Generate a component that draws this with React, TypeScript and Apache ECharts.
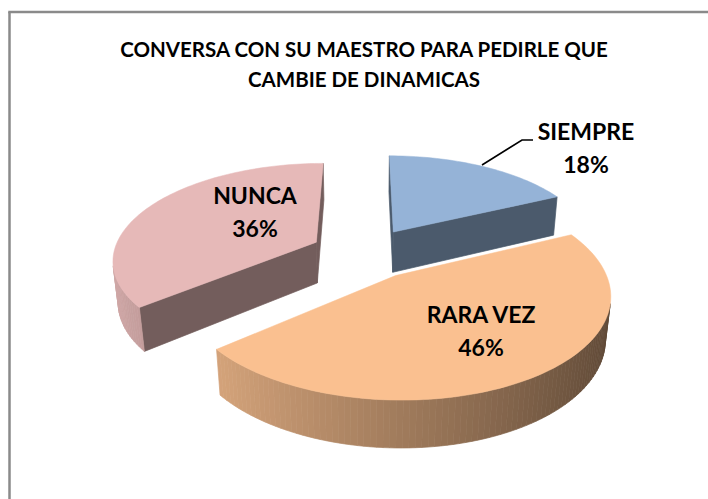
import React, { useEffect, useRef } from 'react';
import * as echarts from 'echarts';

// ---- data ----
const titleLines: string[] = ['CONVERSA CON SU MAESTRO PARA PEDIRLE QUE', 'CAMBIE DE DINAMICAS'];
const categories: string[] = ['SIEMPRE', 'RARA VEZ', 'NUNCA'];
const values: number[] = [18, 46, 36];
const topColors: string[] = ['#95B3D7', '#FAC090', '#E6B9B8'];

// ---- layout / view (3D projection of an exploded pie) ----
const VIEW = {
  cx: 365,
  cy: 253,
  K: 203,
  D: 5.3,
  phi: (28 * Math.PI) / 180,
  h: 0.235,
  explode: 0.27,
};
const LABEL_POS: [number, number][] = [
  [586, 147],
  [481, 330],
  [255, 211],
];

function project(X: number, Y: number, Z: number): [number, number] {
  const sp = Math.sin(VIEW.phi);
  const cp = Math.cos(VIEW.phi);
  const w = Y * cp + Z * sp;
  const s = VIEW.D / (VIEW.D - w);
  return [VIEW.cx + X * VIEW.K * s, VIEW.cy + (Y * sp - Z * cp) * VIEW.K * s];
}

function shade(hex: string, f: number): string {
  const n = parseInt(hex.slice(1), 16);
  const r = Math.min(255, Math.round(((n >> 16) & 255) * f));
  const g = Math.min(255, Math.round(((n >> 8) & 255) * f));
  const b = Math.min(255, Math.round((n & 255) * f));
  return `rgb(${r},${g},${b})`;
}

function signedArea(pts: [number, number][]): number {
  let s = 0;
  for (let i = 0; i < pts.length; i++) {
    const a = pts[i];
    const b = pts[(i + 1) % pts.length];
    s += a[0] * b[1] - b[0] * a[1];
  }
  return s;
}

const total = values.reduce((a, b) => a + b, 0);

function sliceInfo(i: number) {
  let start = 0;
  for (let j = 0; j < i; j++) start += values[j];
  const a0 = (start / total) * Math.PI * 2;
  const a1 = ((start + values[i]) / total) * Math.PI * 2;
  const mid = (a0 + a1) / 2;
  const ox = Math.sin(mid) * VIEW.explode;
  const oy = -Math.cos(mid) * VIEW.explode;
  return { a0, a1, ox, oy };
}

// draw order: slices further back first
const depthOrder = values
  .map((_, i) => ({ i, oy: sliceInfo(i).oy }))
  .sort((a, b) => a.oy - b.oy)
  .map((d) => d.i);

function curvedFactor(normalAngle: number): number {
  const nx = Math.sin(normalAngle);
  return 0.64 - 0.27 * nx;
}
const RADIAL_FACTOR = 0.5;

function renderItem(params: any) {
  const i = params.dataIndex;
  const { a0, a1, ox, oy } = sliceInfo(i);
  const h = VIEW.h;
  const P = (ang: number, r: number, Z: number) =>
    project(ox + r * Math.sin(ang), oy - r * Math.cos(ang), Z);
  const base = depthOrder.indexOf(i) * 100;
  const color = topColors[i];
  const children: any[] = [];

  const quads: { pts: [number, number][]; f: number }[] = [];
  quads.push({ pts: [P(0, 0, 0), P(a0, 1, 0), P(a0, 1, -h), P(0, 0, -h)], f: RADIAL_FACTOR });
  quads.push({ pts: [P(a1, 1, 0), P(0, 0, 0), P(0, 0, -h), P(a1, 1, -h)], f: RADIAL_FACTOR });
  const n = Math.max(2, Math.ceil((a1 - a0) / ((1.5 * Math.PI) / 180)));
  for (let k = 0; k < n; k++) {
    const t1 = a0 + ((a1 - a0) * k) / n;
    const t2 = a0 + ((a1 - a0) * (k + 1)) / n;
    quads.push({
      pts: [P(t1, 1, 0), P(t2, 1, 0), P(t2, 1, -h), P(t1, 1, -h)],
      f: curvedFactor((t1 + t2) / 2),
    });
  }
  quads.forEach((q) => {
    if (signedArea(q.pts) < 0) {
      const c = shade(color, q.f);
      children.push({
        type: 'polygon',
        shape: { points: q.pts },
        style: { fill: c, stroke: c, lineWidth: 0.7 },
        z2: base + 1,
      });
    }
  });

  const topPts: [number, number][] = [P(0, 0, 0)];
  for (let k = 0; k <= n; k++) topPts.push(P(a0 + ((a1 - a0) * k) / n, 1, 0));
  children.push({
    type: 'polygon',
    shape: { points: topPts },
    style: { fill: color, stroke: color, lineWidth: 0.5 },
    z2: base + 50,
  });
  return { type: 'group', children };
}

export default function App() {
  const ref = useRef<HTMLDivElement>(null);
  useEffect(() => {
    if (!ref.current) return;
    document.documentElement.style.overflow = 'hidden';
    document.body.style.overflow = 'hidden';
    document.body.style.margin = '0';
    const chart = echarts.init(ref.current, undefined, { renderer: 'svg' });
    const font = 'Lato, "Open Sans", sans-serif';
    const graphic: any[] = [
      {
        type: 'line',
        shape: { x1: 9.5, y1: 12, x2: 9.5, y2: 520 },
        style: { stroke: '#8a8a8a', lineWidth: 2.5 },
        silent: true,
      },
      {
        type: 'line',
        shape: { x1: 8.25, y1: 12, x2: 730, y2: 12 },
        style: { stroke: '#8a8a8a', lineWidth: 2.5 },
        silent: true,
      },
      ...titleLines.map((t, k) => ({
        type: 'text',
        x: 364,
        y: 49 + k * 30,
        style: {
          text: t,
          fill: '#000',
          fontFamily: font,
          fontWeight: 'bold',
          fontSize: 20.5,
          align: 'center',
          verticalAlign: 'middle',
        },
        z: 10,
      })),
      ...categories.map((c, i) => ({
        type: 'text',
        x: LABEL_POS[i][0],
        y: LABEL_POS[i][1],
        style: {
          text: `${c}\n${Math.round((values[i] / total) * 100)}%`,
          fill: '#000',
          fontFamily: font,
          fontWeight: 'bold',
          fontSize: 23,
          lineHeight: 33,
          align: 'center',
          verticalAlign: 'middle',
        },
        z: 10,
      })),
      {
        type: 'polyline',
        shape: { points: [[482, 165], [522, 140], [533, 140]] },
        style: { stroke: '#000', lineWidth: 1.6, fill: 'none' },
        z: 10,
      },
    ];
    chart.setOption({
      animation: false,
      backgroundColor: '#fff',
      graphic,
      series: [
        {
          type: 'custom',
          coordinateSystem: 'none',
          renderItem,
          data: values.map((v, i) => ({ name: categories[i], value: [i, v] })),
          silent: true,
        },
      ],
    });
    return () => chart.dispose();
  }, []);
  return (
    <div
      ref={ref}
      style={{ position: 'fixed', left: 0, top: 0, width: 730, height: 520, background: '#fff' }}
    />
  );
}
